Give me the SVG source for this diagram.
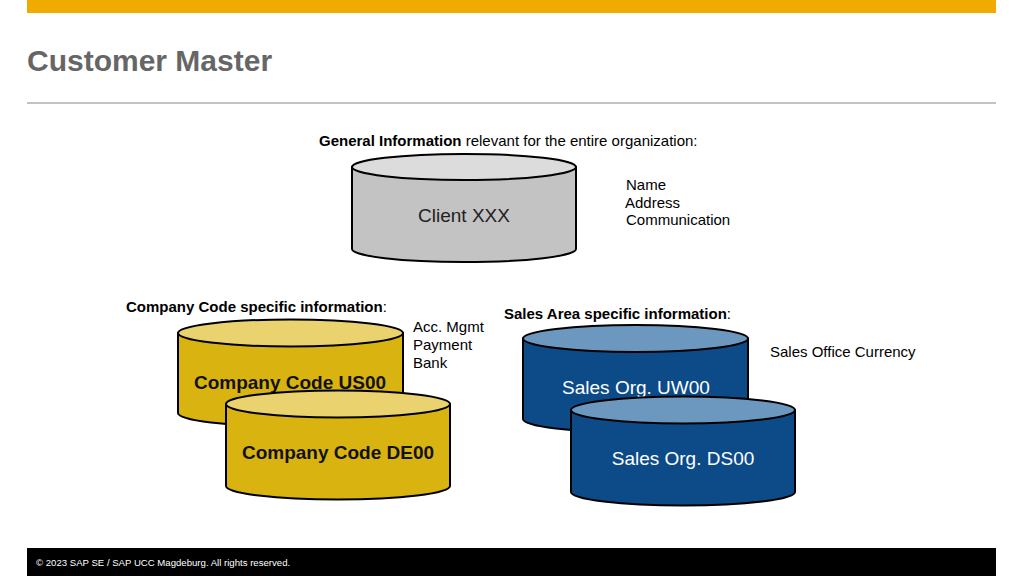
<svg xmlns="http://www.w3.org/2000/svg" width="1024" height="576" viewBox="0 0 1024 576">
<style>
text{font-family:"Liberation Sans",Arial,sans-serif}
.lbl{font-size:15px;fill:#000}
.b{font-weight:bold}
.cyl{stroke:#000;stroke-width:2}
.grey{fill:#C3C3C3}.greyTop{fill:#DCDCDC}
.gold{fill:#D9B310}.goldTop{fill:#EAD26E}
.blue{fill:#0C4B88}.blueTop{fill:#6C97BE}
.nm{font-size:19px;text-anchor:middle}
</style>
<rect width="1024" height="576" fill="#fff"/>
<rect x="27" y="0" width="969" height="13" fill="#F0AB00"/>
<text x="27" y="71" font-size="30" font-weight="bold" fill="#666">Customer Master</text>
<line x1="27" y1="103" x2="996" y2="103" stroke="#888" stroke-width="1.2"/>

<text class="lbl" x="319" y="146"><tspan class="b">General Information</tspan> relevant for the entire organization:</text>
<text class="lbl" x="626" y="190">Name</text>
<text class="lbl" x="625" y="208">Address</text>
<text class="lbl" x="626" y="225">Communication</text>
<text class="lbl" x="126" y="312"><tspan class="b">Company Code specific information</tspan>:</text>
<text class="lbl" x="413" y="332">Acc. Mgmt</text>
<text class="lbl" x="413" y="350">Payment</text>
<text class="lbl" x="413" y="368">Bank</text>
<text class="lbl" x="504" y="319"><tspan class="b">Sales Area specific information</tspan>:</text>
<text class="lbl" x="770" y="357">Sales Office Currency</text>

<g id="client">
<path class="cyl grey" d="M352,167 V249 A112,13 0 0 0 576,249 V167 Z"/>
<ellipse class="cyl greyTop" cx="464" cy="167" rx="112" ry="13"/>
<text class="nm" x="464" y="222" fill="#222">Client XXX</text>
</g>

<g id="cc-us00">
<path class="cyl gold" d="M178,333 V413 A112.5,13.5 0 0 0 403,413 V333 Z"/>
<ellipse class="cyl goldTop" cx="290.5" cy="333" rx="112.5" ry="13.5"/>
<text class="nm" x="290" y="389" font-weight="bold" fill="#111">Company Code US00</text>
</g>
<g id="cc-de00">
<path class="cyl gold" d="M226,404 V486 A112,13.5 0 0 0 450,486 V404 Z"/>
<ellipse class="cyl goldTop" cx="338" cy="404" rx="112" ry="13.5"/>
<text class="nm" x="338" y="459" font-weight="bold" fill="#111">Company Code DE00</text>
</g>

<g id="so-uw00">
<path class="cyl blue" d="M523,338.5 V419 A112.5,13.5 0 0 0 748,419 V338.5 Z"/>
<ellipse class="cyl blueTop" cx="635.5" cy="338.5" rx="112.5" ry="13.5"/>
<text class="nm" x="636" y="394" fill="#fff">Sales Org. UW00</text>
</g>
<g id="so-ds00">
<path class="cyl blue" d="M571,410 V492 A112,13.5 0 0 0 795,492 V410 Z"/>
<ellipse class="cyl blueTop" cx="683" cy="410" rx="112" ry="13.5"/>
<text class="nm" x="683" y="465" fill="#fff">Sales Org. DS00</text>
</g>

<g id="connectors"></g>

<rect x="27" y="548" width="969" height="28" fill="#000"/>
<text x="36" y="566" font-size="9.6" fill="#fff">© 2023 SAP SE / SAP UCC Magdeburg. All rights reserved.</text>
</svg>
